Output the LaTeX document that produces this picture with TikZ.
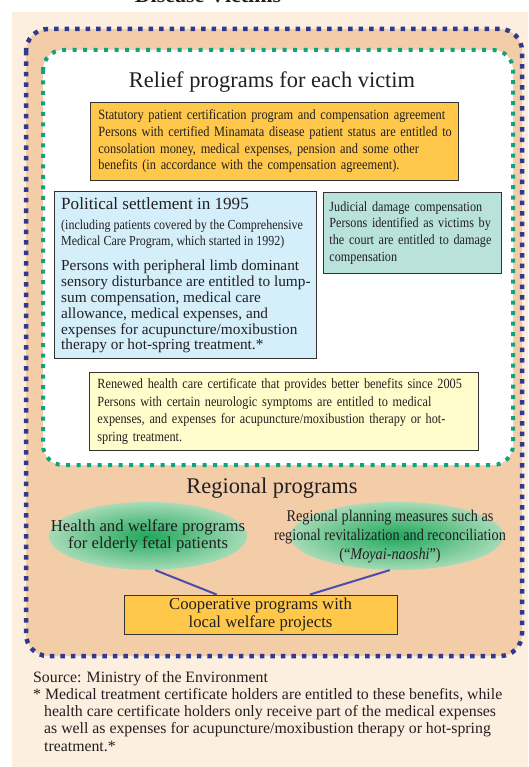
\documentclass[tikz,border=0pt]{standalone}
\usepackage{fontspec}
\setmainfont{Liberation Serif}
\newfontfamily\narrow{Liberation Serif}[FakeStretch=0.87]
\usetikzlibrary{shapes.geometric,calc}
\definecolor{bgbeige}{HTML}{FDEFE0}
\definecolor{peach}{HTML}{F3CCA8}
\definecolor{dotblue}{HTML}{2E3A92}
\definecolor{dotgreen}{HTML}{10A37F}
\definecolor{orangebox}{HTML}{FFC84A}
\definecolor{bluebox}{HTML}{D4EEFA}
\definecolor{tealbox}{HTML}{B9E2DC}
\definecolor{yellowbox}{HTML}{FFFDCB}
\definecolor{boxedge}{HTML}{333333}
\definecolor{txt}{HTML}{231F20}
\definecolor{ellin}{HTML}{1FA85C}
\definecolor{ellout}{HTML}{A6DBB7}
\definecolor{conncol}{HTML}{4A4DAF}
\newcommand\fsz[2]{\fontsize{#1}{#2}\selectfont}
\tikzset{
  infobox/.style={draw=boxedge, line width=0.9pt, inner sep=0pt, align=left, text=txt, anchor=north west},
  plaintext/.style={inner sep=0pt, text=txt},
  oval/.style={ellipse, inner sep=0pt, inner color=ellin, outer color=ellout},
  conn/.style={draw=conncol, line width=2pt},
  bluedots/.style={draw=dotblue, line width=4.5pt, dash pattern=on 4.5pt off 6pt, rounded corners=22pt},
  greendots/.style={draw=dotgreen, line width=4pt, dash pattern=on 4pt off 6.5pt, rounded corners=20pt}
}
\begin{document}
\begin{tikzpicture}[x=1pt,y=-1pt]
\useasboundingbox (0,0) rectangle (528,767);
\fill[white] (0,0) rectangle (528,767);
\fill[bgbeige] (12,12) rectangle (528,767);
\node[plaintext, anchor=base, font=\bfseries\fsz{22}{26}] (dv) at (208,3) {Disease Victims};
% outer and inner frames
\filldraw[fill=peach, bluedots] (26,29) rectangle (522,656);
\filldraw[fill=white, greendots] (43,50) rectangle (513,465);
% relief programs
\node[plaintext, anchor=base, font=\fsz{22.4}{26}] (t1) at (272,88) {Relief programs for each victim};
\node[infobox, inner xsep=8pt, text width=352pt, minimum height=78pt, fill=orangebox, font=\narrow\fsz{14.2}{16.7}] (stat) at (90,102)
 {\mbox{Statutory patient certification program and compensation agreement}\\
  \mbox{Persons with certified Minamata disease patient status are entitled to}\\
  \mbox{consolation money, medical expenses, pension and some other}\\
  \mbox{benefits (in accordance with the compensation agreement).}};
\node[infobox, fill=bluebox, minimum width=262pt, minimum height=167pt] (pol) at (54,191) {};
\node[plaintext, anchor=base west, font=\fsz{17.1}{20}] (pol1) at (61,209) {Political settlement in 1995};
\node[plaintext, anchor=north west, align=left, font=\narrow\fsz{13.8}{16}] (pol2) at (61,219.5)
 {(including patients covered by the Comprehensive\\Medical Care Program, which started in 1992)};
\node[plaintext, anchor=north west, align=left, font=\fsz{15.3}{15.8}] (pol3) at (61,260)
 {Persons with peripheral limb dominant\\
  sensory disturbance are entitled to lump-\\
  sum compensation, medical care\\
  allowance, medical expenses, and\\
  expenses for acupuncture/moxibustion\\
  therapy or hot-spring treatment.*};
\node[infobox, inner xsep=6pt, text width=166pt, fill=tealbox, minimum height=81pt, font=\narrow\fsz{14.0}{16.7}] (jud) at (323,192)
 {\mbox{Judicial damage compensation}\\
  \mbox{Persons identified as victims by}\\
  \mbox{the court are entitled to damage}\\
  \mbox{compensation}};
\node[infobox, fill=yellowbox, inner xsep=8pt, text width=373pt, minimum height=78pt, font=\narrow\fsz{14.1}{17.6}] (hc) at (89,372)
 {\mbox{Renewed health care certificate that provides better benefits since 2005}\\
  \mbox{Persons with certain neurologic symptoms are entitled to medical}\\
  \mbox{expenses, and expenses for acupuncture/moxibustion therapy or hot-}\\
  \mbox{spring treatment.}};
% regional programs
\node[plaintext, anchor=base, font=\fsz{22.4}{26}] (t2) at (272,493) {Regional programs};
\node[oval, minimum width=198pt, minimum height=68pt] (le) at (148,536) {};
\node[plaintext, align=center, font=\fsz{16.7}{17}] (let) at (148,536)
 {Health and welfare programs\\for elderly fetal patients};
\node[oval, minimum width=213pt, minimum height=68pt] (re) at (397,536) {};
\node[plaintext, align=center, font=\narrow\fsz{16.4}{19}] (ret) at (390,537)
 {Regional planning measures such as\\regional revitalization and reconciliation\\(“\textit{Moyai-naoshi}”)};
\node[draw=boxedge, line width=0.9pt, fill=orangebox, text=txt, minimum width=273pt, minimum height=39pt, inner sep=0pt, align=center, font=\fsz{16.7}{18}] (coop) at (260.5,614.5)
 {Cooperative programs with\\local welfare projects};
\draw[conn] (le.282) -- ($(coop.north west)!0.34!(coop.north east)$);
\draw[conn] (re.258) -- ($(coop.north west)!0.68!(coop.north east)$);
% footer
\node[plaintext, anchor=north west, align=left, font=\fsz{15.8}{17.2}] (foot) at (33,671)
 {Source: Ministry of the Environment\\
  * Medical treatment certificate holders are entitled to these benefits, while\\
  \hspace*{11pt}health care certificate holders only receive part of the medical expenses\\
  \hspace*{11pt}as well as expenses for acupuncture/moxibustion therapy or hot-spring\\
  \hspace*{11pt}treatment.*};
\end{tikzpicture}
\end{document}
